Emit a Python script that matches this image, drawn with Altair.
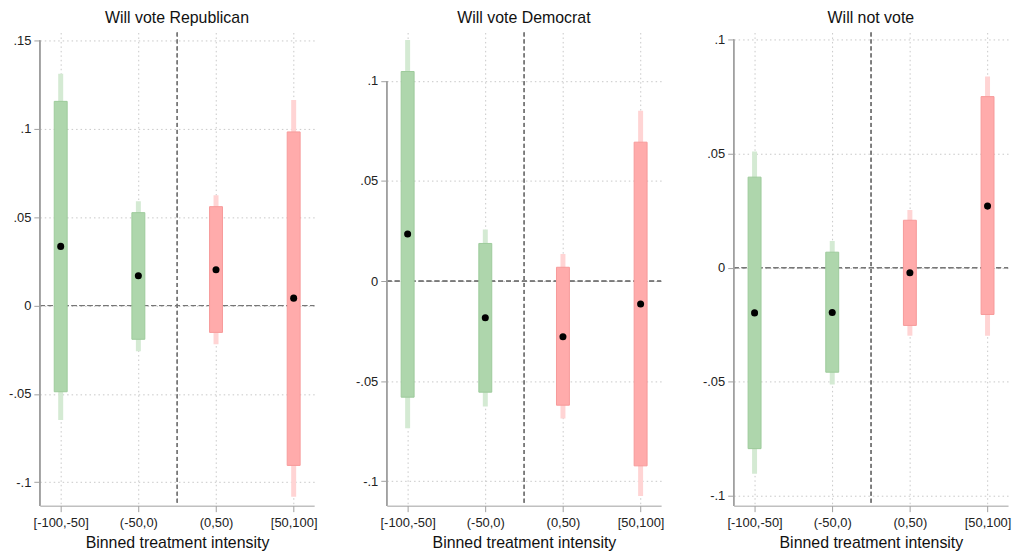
import altair as alt
import pandas as pd

bins = ["[-100,-50]", "(-50,0)", "(0,50)", "[50,100]"]
bin_pos = [1, 2, 3, 4]
titles = ["Will vote Republican", "Will vote Democrat", "Will not vote"]

# point estimates and confidence bands
rep_est = [0.0335, 0.0169, 0.0203, 0.0042]
rep_lo_in = [-0.0488, -0.0191, -0.0152, -0.0905]
rep_hi_in = [0.1156, 0.0526, 0.0560, 0.0983]
rep_lo_out = [-0.0648, -0.0259, -0.0219, -0.1083]
rep_hi_out = [0.1312, 0.0590, 0.0624, 0.1164]

dem_est = [0.0235, -0.0183, -0.0278, -0.0114]
dem_lo_in = [-0.0580, -0.0555, -0.0620, -0.0923]
dem_hi_in = [0.1047, 0.0188, 0.0069, 0.0694]
dem_lo_out = [-0.0735, -0.0626, -0.0687, -0.1074]
dem_hi_out = [0.1204, 0.0258, 0.0135, 0.0851]

nov_est = [-0.0198, -0.0196, -0.0022, 0.0270]
nov_lo_in = [-0.0793, -0.0458, -0.0253, -0.0205]
nov_hi_in = [0.0397, 0.0068, 0.0208, 0.0750]
nov_lo_out = [-0.0903, -0.0512, -0.0298, -0.0298]
nov_hi_out = [0.0509, 0.0117, 0.0253, 0.0838]

rep_ticks = [-0.1, -0.05, 0, 0.05, 0.1, 0.15]
dem_ticks = [-0.1, -0.05, 0, 0.05, 0.1]
nov_ticks = [-0.1, -0.05, 0, 0.05, 0.1]

W, H = 276, 476
GREEN, GREEN_L, GREEN_S = "#aed6ac", "#d4ead3", "#9dcb9b"
RED, RED_L, RED_S = "#ffabab", "#ffd4d4", "#f79a9a"

label_expr = "[" + ",".join("'" + b + "'" for b in bins) + "][datum.value - 1]"
# Stata style: no leading zero, plain hyphen for minus
ylab_expr = ("datum.value == 0 ? '0' : (datum.value < 0 ? '-' : '') + "
             "replace(format(abs(datum.value), '.2~f'), '0.', '.')")


def panel(title, est, lo_in, hi_in, lo_out, hi_out, ticks, ydom):
    df = pd.DataFrame({"pos": bin_pos, "est": est, "lo_in": lo_in, "hi_in": hi_in,
                       "lo_out": lo_out, "hi_out": hi_out})
    x = alt.X("pos:Q", scale=alt.Scale(domain=[0.795, 4.2], nice=False, zero=False),
              axis=alt.Axis(values=bin_pos, labelExpr=label_expr, title="Binned treatment intensity",
                            grid=True, gridDash=[1.5, 3], gridColor="#c8c8c8",
                            domainColor="#a0a0a0", tickColor="#a0a0a0", tickSize=6,
                            labelPadding=5, titlePadding=5, labelFontSize=13, titleFontSize=16,
                            titleFontWeight="normal", labelColor="#222", titleColor="#111"))
    y_axis = alt.Axis(values=ticks, labelExpr=ylab_expr, title=None, domain=False,
                      grid=True, gridDash=[1.5, 3], gridColor="#c8c8c8",
                      tickColor="#a0a0a0", tickSize=6, labelPadding=3, labelFontSize=13,
                      labelColor="#222")
    yscale = alt.Scale(domain=ydom, nice=False, zero=False)
    base = alt.Chart(df)
    is_neg = "datum.pos <= 2"

    outer = base.mark_bar(size=5).encode(
        x=x, y=alt.Y("lo_out:Q", scale=yscale, axis=y_axis), y2="hi_out:Q",
        color=alt.condition(is_neg, alt.value(GREEN_L), alt.value(RED_L)))
    inner = base.mark_bar(size=13, strokeWidth=1).encode(
        x="pos:Q", y="lo_in:Q", y2="hi_in:Q",
        color=alt.condition(is_neg, alt.value(GREEN), alt.value(RED)),
        stroke=alt.condition(is_neg, alt.value(GREEN_S), alt.value(RED_S)))
    dots = base.mark_circle(size=50, color="black", opacity=1).encode(x="pos:Q", y="est:Q")

    zero = base.mark_rule(color="#777", strokeDash=[5, 3], strokeWidth=1).encode(
        y=alt.datum(0), x=alt.value(0), x2=alt.value(W))
    split = base.mark_rule(color="#777", strokeDash=[4, 3], strokeWidth=1).encode(
        x=alt.datum(2.5), y=alt.value(0), y2=alt.value(H))
    yline = base.mark_rule(color="#a0a0a0", strokeWidth=1.3).encode(
        x=alt.value(0), y=alt.datum(ticks[-1]), y2=alt.value(H))

    return alt.layer(outer, zero, split, yline, inner, dots).properties(
        width=W, height=H, title=title)


charts = [
    panel(titles[0], rep_est, rep_lo_in, rep_hi_in, rep_lo_out, rep_hi_out, rep_ticks, [-0.1133, 0.1546]),
    panel(titles[1], dem_est, dem_lo_in, dem_hi_in, dem_lo_out, dem_hi_out, dem_ticks, [-0.1122, 0.1242]),
    panel(titles[2], nov_est, nov_lo_in, nov_hi_in, nov_lo_out, nov_hi_out, nov_ticks, [-0.1043, 0.1031]),
]

chart = (
    alt.hconcat(*charts, spacing=73, bounds="flush")
    .properties(padding={"left": 0, "top": 0, "right": 5, "bottom": 5})
    .configure(font="Liberation Sans")
    .configure_view(stroke=None)
    .configure_title(fontSize=16, fontWeight="normal", color="#111", offset=6, anchor="middle")
)

chart.save("out.html", embed_options={"renderer": "svg", "actions": False})
